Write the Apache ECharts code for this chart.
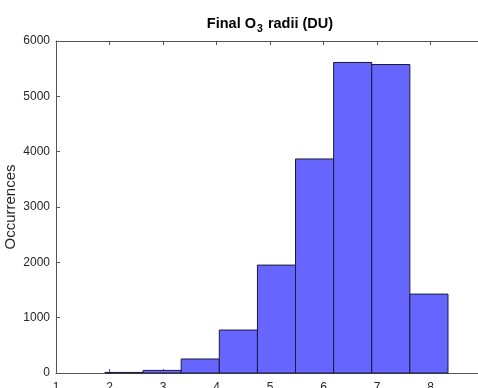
<!DOCTYPE html>
<html>
<head>
<meta charset="utf-8">
<script src="https://cdn.jsdelivr.net/npm/echarts@6/dist/echarts.min.js"></script>
<style>
  html, body { margin: 0; padding: 0; overflow: hidden; background: #fff; }
  #chart { width: 484px; height: 388px; }
</style>
</head>
<body>
<div id="chart"></div>
<script>
// histogram bins (edges) and counts
const binEdges = [1.915, 2.627, 3.340, 4.052, 4.765, 5.477, 6.189, 6.902, 7.614, 8.327]
const counts = [10, 47, 253, 776, 1950, 3868, 5612, 5575, 1426]
const xTicks = [1, 2, 3, 4, 5, 6, 7, 8, 9]
const yTicks = [0, 1000, 2000, 3000, 4000, 5000, 6000]

const axisColor = '#555555'
const textColor = '#262626'
const font = 'Liberation Sans, Arial, Helvetica, sans-serif'

const binData = counts.map((c, i) => [binEdges[i], binEdges[i + 1], c])

const chart = echarts.init(document.getElementById('chart'))

const option = {
  animation: false,
  title: {
    text: '{a|Final O}{s|3}{a| radii (DU)}',
    left: 265,
    top: 10,
    textAlign: 'center',
    textStyle: {
      rich: {
        a: { fontFamily: font, fontSize: 14.5, fontWeight: 'bold', color: '#000', lineHeight: 18 },
        s: { fontFamily: font, fontSize: 10.5, fontWeight: 'bold', color: '#000', lineHeight: 18, padding: [10, 1, 0, 1] }
      }
    }
  },
  grid: { left: 56, right: 0, top: 41, bottom: 15, outerBoundsMode: 'none' },
  xAxis: [
    {
      type: 'value',
      min: xTicks[0],
      max: xTicks[xTicks.length - 1],
      interval: 1,
      axisLine: { lineStyle: { color: axisColor, width: 1 } },
      axisTick: { inside: true, length: 4, lineStyle: { color: axisColor } },
      axisLabel: { color: textColor, fontFamily: font, fontSize: 12, margin: 9 },
      splitLine: { show: false }
    },
    {
      type: 'value',
      position: 'top',
      min: xTicks[0],
      max: xTicks[xTicks.length - 1],
      interval: 1,
      axisLine: { onZero: false, lineStyle: { color: axisColor, width: 1 } },
      axisTick: { inside: true, length: 4, lineStyle: { color: axisColor } },
      axisLabel: { show: false },
      splitLine: { show: false }
    }
  ],
  yAxis: {
    type: 'value',
    min: yTicks[0],
    max: yTicks[yTicks.length - 1],
    interval: 1000,
    name: 'Occurrences',
    nameLocation: 'middle',
    nameGap: 38,
    nameMoveOverlap: false,
    nameTextStyle: { color: textColor, fontFamily: font, fontSize: 15 },
    axisLine: { show: true, lineStyle: { color: axisColor, width: 1 } },
    axisTick: { show: true, inside: true, length: 4, lineStyle: { color: axisColor } },
    axisLabel: { color: textColor, fontFamily: font, fontSize: 12, margin: 6, formatter: v => String(v) },
    splitLine: { show: false }
  },
  series: [
    {
      type: 'custom',
      xAxisIndex: 0,
      data: binData,
      encode: { x: [0, 1], y: 2 },
      renderItem: function (params, api) {
        const p0 = api.coord([api.value(0), api.value(2)])
        const p1 = api.coord([api.value(1), 0])
        return {
          type: 'rect',
          shape: { x: p0[0], y: p0[1], width: p1[0] - p0[0], height: p1[1] - p0[1] },
          style: { fill: '#6666ff', stroke: '#1a1a3a', lineWidth: 1 }
        }
      }
    }
  ]
}

chart.setOption(option)
</script>
</body>
</html>
